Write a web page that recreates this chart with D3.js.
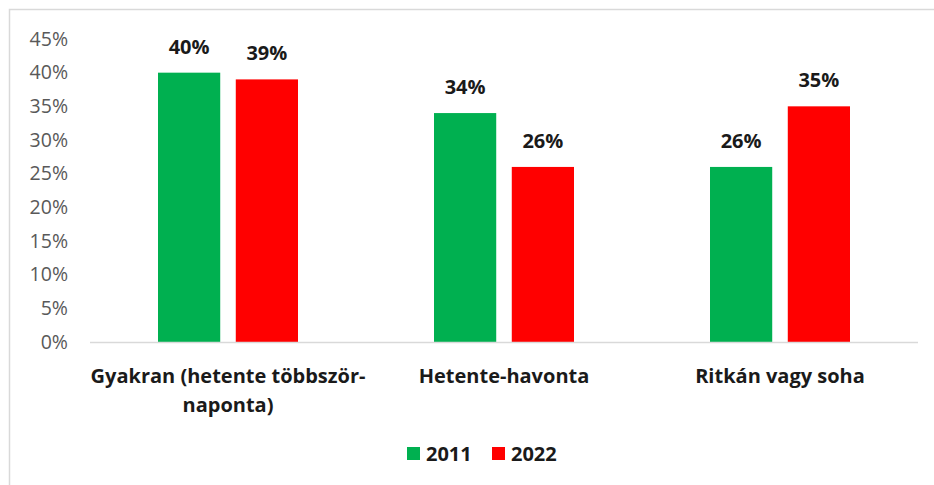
<!DOCTYPE html>
<html>
<head>
<meta charset="utf-8">
<script src="https://cdn.jsdelivr.net/npm/d3@7"></script>
<style>
  body { margin: 0; background: #fff; }
  text { font-family: "Open Sans", sans-serif; }
</style>
</head>
<body>
<svg id="chart"></svg>
<script>
  const categories = [["Gyakran (hetente többször-", "naponta)"], ["Hetente-havonta"], ["Ritkán vagy soha"]];
  const series = ["2011", "2022"];
  const values2011 = [40, 34, 26];
  const values2022 = [39, 26, 35];
  const yTicks = [0, 5, 10, 15, 20, 25, 30, 35, 40, 45];
  const colors = ["#00b050", "#ff0000"];

  const W = 934, H = 485;
  const margin = { top: 39, left: 90, right: 16, bottom: 143 };
  const width = W - margin.left - margin.right;
  const height = H - margin.top - margin.bottom;
  const font = "'Open Sans', sans-serif";

  const svg = d3.select("#chart").attr("width", W).attr("height", H);

  // chart border (right and bottom fall outside the window)
  svg.append("rect")
    .attr("x", 9.5).attr("y", 9.5)
    .attr("width", W + 20).attr("height", H + 20)
    .attr("fill", "none").attr("stroke", "#d9d9d9").attr("stroke-width", 1.5);

  const g = svg.append("g").attr("transform", `translate(${margin.left},${margin.top})`);

  const idx = categories.map((d, i) => i);
  const xscale = d3.scaleBand().domain(idx).range([0, width]);
  const inner = d3.scaleBand().domain(series).range([0, 140]).paddingInner(0.2);
  const yscale = d3.scaleLinear().domain([0, 45]).range([height, 0]);

  // y axis labels
  const yaxis = d3.axisLeft(yscale).tickValues(yTicks).tickFormat(d => d + "%").tickSize(0).tickPadding(22);
  const g_yaxis = g.append("g").call(yaxis);
  g_yaxis.select(".domain").remove();
  g_yaxis.selectAll("text")
    .attr("fill", "#595959").attr("font-size", 19.5)
    .style("font-family", font);

  const rows = idx.map(i => ({ i, v: [values2011[i], values2022[i]] }));

  const groups = g.selectAll("g.cat").data(rows).join("g")
    .attr("class", "cat")
    .attr("transform", d => `translate(${xscale(d.i) + xscale.bandwidth() / 2 - 70},0)`);

  groups.selectAll("rect").data(d => d.v.map((v, k) => ({ v, k }))).join("rect")
    .attr("x", d => inner(series[d.k]))
    .attr("width", inner.bandwidth())
    .attr("y", d => yscale(d.v))
    .attr("height", d => height - yscale(d.v))
    .attr("fill", d => colors[d.k]);

  groups.selectAll("text.val").data(d => d.v.map((v, k) => ({ v, k }))).join("text")
    .attr("class", "val")
    .attr("x", d => inner(series[d.k]) + inner.bandwidth() / 2)
    .attr("y", d => yscale(d.v) - 19)
    .attr("text-anchor", "middle")
    .attr("font-size", 20).attr("font-weight", "bold").attr("fill", "#1a1a1a")
    .text(d => d.v + "%");

  // x axis line
  g.append("line")
    .attr("x1", 0).attr("x2", width)
    .attr("y1", height + 0.5).attr("y2", height + 0.5)
    .attr("stroke", "#d9d9d9").attr("stroke-width", 1.5);

  // category labels
  g.selectAll("text.cat").data(rows).join("text")
    .attr("class", "cat")
    .attr("x", d => xscale(d.i) + xscale.bandwidth() / 2)
    .attr("y", height + 41)
    .attr("text-anchor", "middle")
    .attr("font-size", 20).attr("font-weight", "bold").attr("fill", "#1a1a1a")
    .selectAll("tspan").data(d => categories[d.i]).join("tspan")
    .attr("x", function () { return d3.select(this.parentNode).attr("x"); })
    .attr("dy", (d, k) => k === 0 ? 0 : 29)
    .text(d => d);

  // legend
  const legend = svg.append("g").attr("transform", "translate(407,447)");
  const item = legend.selectAll("g").data(series).join("g")
    .attr("transform", (d, k) => `translate(${k * 85},0)`);
  item.append("rect").attr("width", 13).attr("height", 13).attr("fill", (d, k) => colors[k]);
  item.append("text").attr("x", 19).attr("y", 14)
    .attr("font-size", 20).attr("font-weight", "bold").attr("fill", "#1a1a1a")
    .text(d => d);
</script>
</body>
</html>
